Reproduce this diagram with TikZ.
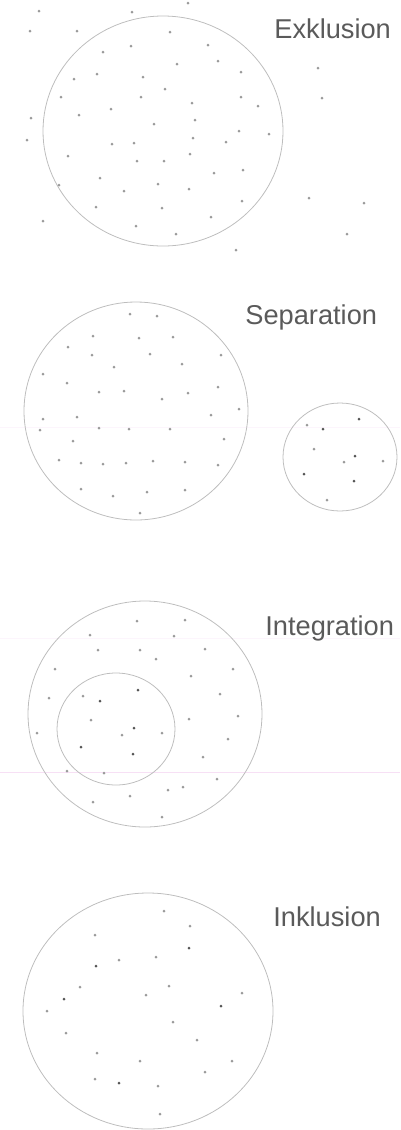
\documentclass[tikz,border=0pt]{standalone}
\usepackage{fontspec}
\setmainfont{Liberation Sans}
\usepackage{tikz}
\usetikzlibrary{positioning}
\definecolor{RingGray}{HTML}{BDBDBD}
\definecolor{DotGray}{HTML}{9A9A9A}
\definecolor{DotDark}{HTML}{555555}
\definecolor{LabelGray}{HTML}{5A5A5A}
\definecolor{ScanPink}{HTML}{F5D8F3}
\tikzset{
  ring/.style={draw=RingGray,line width=0.45pt},
  dot/.style={fill=DotGray},
  darkdot/.style={fill=DotDark},
  caption/.style={anchor=west,inner sep=0pt,text=LabelGray,font=\fontsize{15.5}{18}\selectfont},
  scanline/.style={draw=ScanPink,line width=0.3pt}
}

\begin{document}
\begin{tikzpicture}[x=0.02cm,y=-0.02cm]
\useasboundingbox (0,0) rectangle (400,1130);
% faint scan lines
\draw[scanline,opacity=0.25] (0,427)--(400,427);
\draw[scanline,opacity=0.25] (0,638)--(400,638);
\draw[scanline,opacity=0.8] (0,772)--(400,772);

% Exklusion
\draw[ring] (163,131) ellipse (120 and 115);
\foreach \px/\py in {39/11,132/12,188/3,30/31,77/31,318/68,322/98,31/118,27/140,309/198,364/203,347/234,43/221,236/250,
  170/32,131/46,208/45,103/52,177/64,218/61,74/79,97/74,143/77,241/72,165/89,61/97,141/97,241/97,192/103,258/106,
  111/109,79/115,195/120,154/124,239/131,269/134,193/138,112/144,134/143,226/142,68/156,190/154,137/161,164/161,
  214/173,243/170,100/178,59/185,158/184,124/191,189/189,242/201,96/207,162/208,211/217,136/226,176/234}
  \fill[dot] (\px,\py) circle (1.5);
\node[caption] (exkl) at (274,29) {Exklusion};

% Separation
\draw[ring] (136,411) ellipse (112 and 109);
\draw[ring] (340,457) ellipse (57 and 54);
\foreach \px/\py in {130/314,157/316,93/336,139/338,173/337,68/347,92/355,150/354,221/355,114/367,182/364,43/374,
  67/383,218/387,99/392,124/391,188/393,162/399,239/409,43/419,77/417,211/415,40/430,99/428,129/429,170/429,
  224/439,73/441,59/460,81/463,103/464,126/463,153/461,185/462,218/465,81/489,113/496,147/492,185/490,140/513,
  307/425,314/449,344/462,383/461,327/500}
  \fill[dot] (\px,\py) circle (1.5);
\foreach \px/\py in {359/419,323/429,355/456,304/474,354/481}
  \fill[darkdot] (\px,\py) circle (1.5);
\node[caption] (sepa) at (245,317) {Separation};

% Integration
\draw[ring] (145,714) ellipse (117 and 113);
\draw[ring] (116,729) ellipse (59 and 56);
\foreach \px/\py in {137/621,185/620,90/635,174/636,98/650,140/650,205/649,156/659,55/669,233/669,191/676,49/698,
  220/694,238/716,189/719,37/733,228/739,203/757,67/771,217/779,168/790,183/787,130/796,93/802,162/817,104/773,
  83/696,91/720,122/735,162/733}
  \fill[dot] (\px,\py) circle (1.5);
\foreach \px/\py in {100/701,138/690,134/728,81/747,133/754}
  \fill[darkdot] (\px,\py) circle (1.5);
\node[caption] (inte) at (265,628) {Integration};

% Inklusion
\draw[ring] (148,1011) ellipse (125 and 118);
\foreach \px/\py in {164/911,190/926,95/935,119/960,156/957,80/987,169/986,146/995,242/993,47/1011,173/1022,
  66/1033,197/1040,97/1053,140/1061,232/1061,205/1072,95/1079,158/1086,160/1114}
  \fill[dot] (\px,\py) circle (1.5);
\foreach \px/\py in {189/948,96/966,64/999,221/1006,119/1083}
  \fill[darkdot] (\px,\py) circle (1.5);
\node[caption] (inkl) at (273,917) {Inklusion};
\end{tikzpicture}
\end{document}
